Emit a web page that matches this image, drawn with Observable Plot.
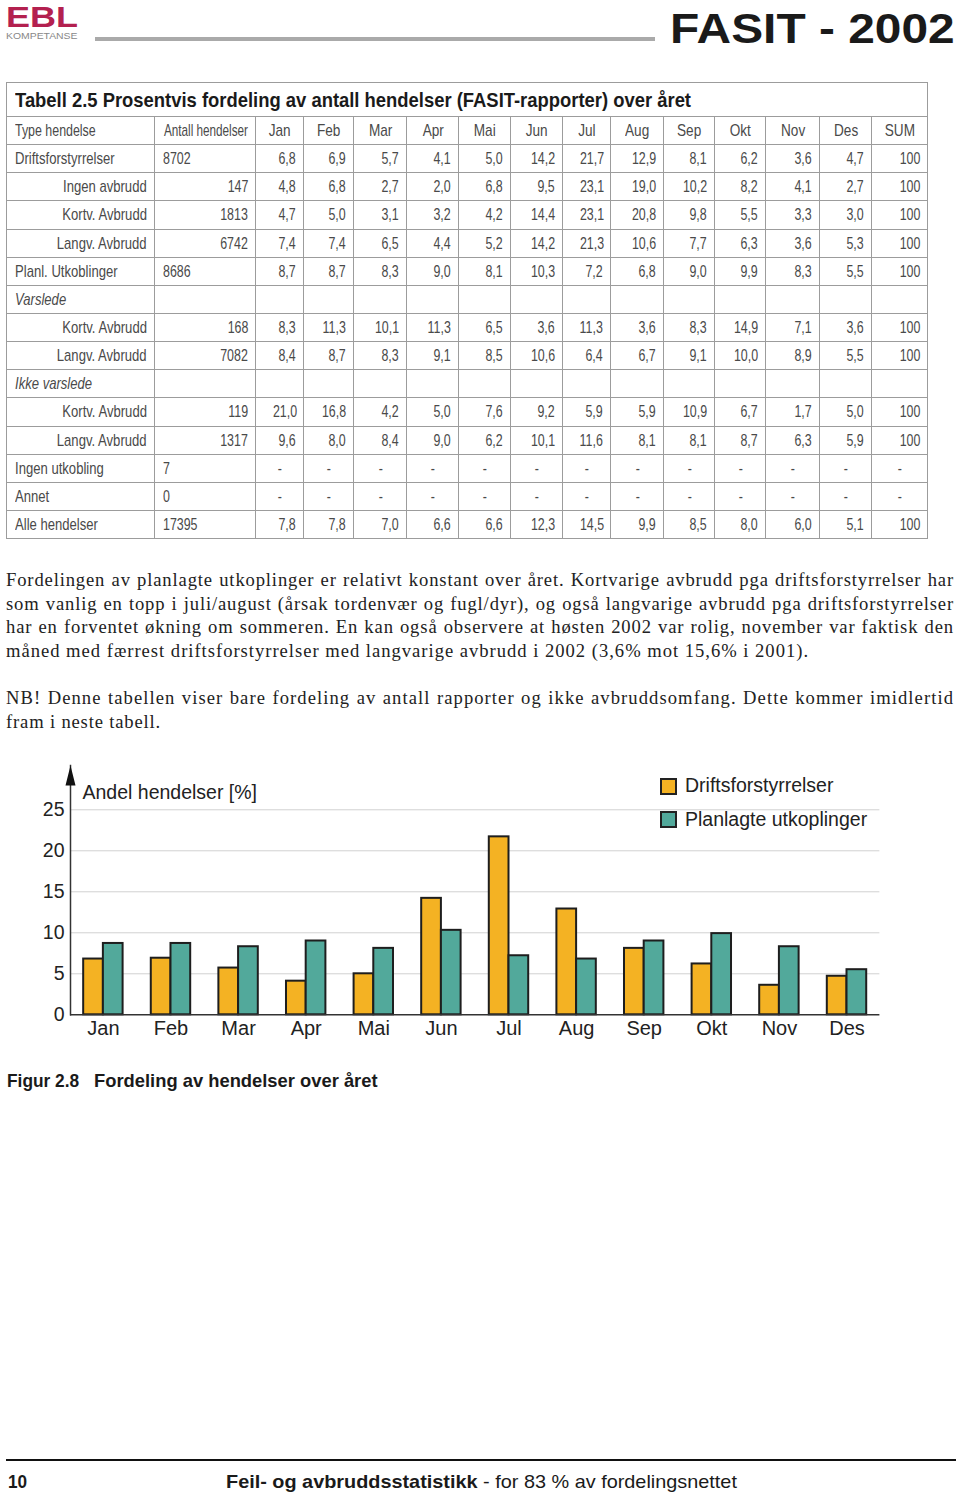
<!DOCTYPE html>
<html><head><meta charset="utf-8">
<script src="https://cdn.jsdelivr.net/npm/d3@7"></script>
<script src="https://cdn.jsdelivr.net/npm/@observablehq/plot@0.6"></script>
<style>
body{margin:0;background:#fff;width:960px;height:1496px;position:relative;overflow:hidden;font-family:"Liberation Sans",Arial,sans-serif;color:#222}
.abs{position:absolute;white-space:nowrap}
.fit{display:inline-block;white-space:nowrap}
#tbl{position:absolute;left:6px;top:82px;border-collapse:collapse;table-layout:fixed;width:921px}
#tbl td{border:1px solid #9c9c9c;padding:0 7px 0 8px;height:27.15px;font-size:17px;color:#4a4a4a;white-space:nowrap;overflow:visible;line-height:27px}
#tbl td.num{text-align:right}
#tbl td.ctr{text-align:center}
#tbl td.title{font-size:21px;font-weight:bold;color:#1a1a1a;height:33px;line-height:33px;padding-left:8px}
#tbl td span{display:inline-block}
#tbl td.ctr span{margin:0 -40px}
.par{position:absolute;left:6px;width:948px;font-family:"Liberation Serif","Times New Roman",serif;font-size:18.6px;line-height:23.7px;color:#222}
.par div{text-align:justify;text-align-last:justify;white-space:nowrap}
.par div.last{text-align-last:left}
.lg{position:absolute;width:17px;height:17px;box-sizing:border-box;border:2px solid #222}
.lgt{position:absolute;font-size:19.5px;line-height:22px;color:#222;white-space:nowrap}
</style></head>
<body>
<!-- header -->
<div class="abs" style="left:6px;top:4px;line-height:25px;font-size:30px;font-weight:bold;color:#b3204f"><span class="fit" data-w="72" style="transform-origin:left">EBL</span></div>
<div class="abs" style="left:6px;top:32px;line-height:8px;font-size:8.5px;color:#888"><span class="fit" data-w="71" style="transform-origin:left">KOMPETANSE</span></div>
<div class="abs" style="left:95px;top:37px;width:560px;height:4px;background:#aaaaaa"></div>
<div class="abs" style="left:670px;top:6px;font-size:42px;font-weight:bold;color:#1a1a1a;line-height:46px"><span class="fit" data-w="285" style="transform-origin:left">FASIT - 2002</span></div>

<table id="tbl"></table>

<div class="par" style="top:568px">
<div>Fordelingen av planlagte utkoplinger er relativt konstant over året. Kortvarige avbrudd pga driftsforstyrrelser har</div>
<div>som vanlig en topp i juli/august (årsak tordenvær og fugl/dyr), og også langvarige avbrudd pga driftsforstyrrelser</div>
<div>har en forventet økning om sommeren. En kan også observere at høsten 2002 var rolig, november var faktisk den</div>
<div class="last" data-w="803">måned med færrest driftsforstyrrelser med langvarige avbrudd i 2002 (3,6% mot 15,6% i 2001).</div>
</div>
<div class="par" style="top:686px">
<div>NB! Denne tabellen viser bare fordeling av antall rapporter og ikke avbruddsomfang. Dette kommer imidlertid</div>
<div class="last" data-w="155">fram i neste tabell.</div>
</div>

<div id="chart" class="abs" style="left:0;top:760px"></div>
<div class="lg" style="left:660px;top:778px;background:#f4b223"></div>
<div class="lgt" style="left:685px;top:774px">Driftsforstyrrelser</div>
<div class="lg" style="left:660px;top:811px;background:#52a99b"></div>
<div class="lgt" style="left:685px;top:808px">Planlagte utkoplinger</div>

<div class="abs" style="left:7px;top:1069px;font-size:19px;font-weight:bold;color:#1a1a1a;line-height:24px"><span class="fit" data-w="72" style="transform-origin:left">Figur 2.8</span></div>
<div class="abs" style="left:94px;top:1069px;font-size:19px;font-weight:bold;color:#1a1a1a;line-height:24px"><span class="fit" data-w="284" style="transform-origin:left">Fordeling av hendelser over året</span></div>

<!-- footer -->
<div class="abs" style="left:6px;top:1459px;width:950px;height:2px;background:#111"></div>
<div class="abs" style="left:8px;top:1471px;font-size:19px;font-weight:bold;color:#1a1a1a;line-height:22px"><span class="fit" data-w="19" style="transform-origin:left">10</span></div>
<div class="abs" style="left:226px;top:1471px;font-size:19px;color:#1a1a1a;line-height:22px"><span class="fit" data-w="511" style="transform-origin:left"><b>Feil- og avbruddsstatistikk</b> - for 83 % av fordelingsnettet</span></div>

<script>
// ---- chart data ----
const months = ["Jan","Feb","Mar","Apr","Mai","Jun","Jul","Aug","Sep","Okt","Nov","Des"];
const driftsforstyrrelser = [6.8, 6.9, 5.7, 4.1, 5.0, 14.2, 21.7, 12.9, 8.1, 6.2, 3.6, 4.7];
const planlagteUtkoplinger = [8.7, 8.7, 8.3, 9.0, 8.1, 10.3, 7.2, 6.8, 9.0, 9.9, 8.3, 5.5];
const seriesNames = ["Driftsforstyrrelser", "Planlagte utkoplinger"];
const yTicks = [0, 5, 10, 15, 20, 25];
const yLabel = "Andel hendelser [%]";

// ---- table data ----
const tblTitle = "Tabell 2.5 Prosentvis fordeling av antall hendelser (FASIT-rapporter) over året";
const tblHeader = ["Type hendelse","Antall hendelser","Jan","Feb","Mar","Apr","Mai","Jun","Jul","Aug","Sep","Okt","Nov","Des","SUM"];
const rowLabels = ["Driftsforstyrrelser","Ingen avbrudd","Kortv. Avbrudd","Langv. Avbrudd","Planl. Utkoblinger","Varslede","Kortv. Avbrudd","Langv. Avbrudd","Ikke varslede","Kortv. Avbrudd","Langv. Avbrudd","Ingen utkobling","Annet","Alle hendelser"];
const rowKinds = ["main","sub","sub","sub","main","group","sub","sub","group","sub","sub","main","main","main"];
const rowCounts = ["8702","147","1813","6742","8686","","168","7082","","119","1317","7","0","17395"];
const rDrift = ["6,8","6,9","5,7","4,1","5,0","14,2","21,7","12,9","8,1","6,2","3,6","4,7","100"];
const rIngen = ["4,8","6,8","2,7","2,0","6,8","9,5","23,1","19,0","10,2","8,2","4,1","2,7","100"];
const rKort = ["4,7","5,0","3,1","3,2","4,2","14,4","23,1","20,8","9,8","5,5","3,3","3,0","100"];
const rLang = ["7,4","7,4","6,5","4,4","5,2","14,2","21,3","10,6","7,7","6,3","3,6","5,3","100"];
const rPlanl = ["8,7","8,7","8,3","9,0","8,1","10,3","7,2","6,8","9,0","9,9","8,3","5,5","100"];
const rVarsKort = ["8,3","11,3","10,1","11,3","6,5","3,6","11,3","3,6","8,3","14,9","7,1","3,6","100"];
const rVarsLang = ["8,4","8,7","8,3","9,1","8,5","10,6","6,4","6,7","9,1","10,0","8,9","5,5","100"];
const rIkkeKort = ["21,0","16,8","4,2","5,0","7,6","9,2","5,9","5,9","10,9","6,7","1,7","5,0","100"];
const rIkkeLang = ["9,6","8,0","8,4","9,0","6,2","10,1","11,6","8,1","8,1","8,7","6,3","5,9","100"];
const rDash = ["-","-","-","-","-","-","-","-","-","-","-","-","-"];
const rAlle = ["7,8","7,8","7,0","6,6","6,6","12,3","14,5","9,9","8,5","8,0","6,0","5,1","100"];
const rowValues = [rDrift,rIngen,rKort,rLang,rPlanl,null,rVarsKort,rVarsLang,null,rIkkeKort,rIkkeLang,rDash,rDash,rAlle];

// ---- build table ----
const colW = [148,101,48,50,53,52,52,52,48,53,51,51,54,52,56];
const tbl = document.getElementById("tbl");
const cg = document.createElement("colgroup");
colW.forEach(w => { const c = document.createElement("col"); c.style.width = w + "px"; cg.appendChild(c); });
tbl.appendChild(cg);
function cell(row, text, align, sx, extra) {
  const c = row.insertCell();
  if (align === "right") c.className = "num";
  if (align === "center") c.className = "ctr";
  if (text) {
    const s = document.createElement("span");
    s.textContent = text;
    s.style.transform = `scaleX(${sx})`;
    s.style.transformOrigin = align === "right" ? "right" : align === "center" ? "center" : "left";
    if (extra) Object.assign(s.style, extra);
    c.appendChild(s);
  }
  return c;
}
let tr = tbl.insertRow();
let td = tr.insertCell(); td.colSpan = 15; td.className = "title";
const tspan = document.createElement("span"); tspan.className = "fit"; tspan.dataset.w = "676"; tspan.style.transformOrigin = "left"; tspan.textContent = tblTitle; td.appendChild(tspan);
tr = tbl.insertRow();
tblHeader.forEach((h, i) => cell(tr, h, i > 0 ? "center" : "left", i === 1 ? 0.69 : i === 0 ? 0.73 : 0.8));
rowLabels.forEach((lab, r) => {
  const row = tbl.insertRow();
  const kind = rowKinds[r];
  cell(row, lab, kind === "sub" ? "right" : "left", 0.77, kind === "group" ? {fontStyle: "italic"} : null);
  cell(row, rowCounts[r], kind === "sub" ? "right" : "left", 0.73);
  const vals = rowValues[r];
  for (let k = 0; k < 13; k++) {
    if (vals) cell(row, vals[k], vals[k] === "-" ? "center" : "right", 0.73);
    else row.insertCell();
  }
});

// fit helper
document.querySelectorAll(".fit").forEach(el => {
  const w = el.offsetWidth;
  el.style.transform = `scaleX(${(+el.dataset.w) / w})`;
});
// paragraph fitting: add letter spacing so natural width is close to target
document.querySelectorAll(".par div").forEach(el => {
  const target = el.dataset.w ? +el.dataset.w : 948;
  const txt = el.textContent;
  const probe = document.createElement("span");
  probe.textContent = txt;
  probe.style.whiteSpace = "nowrap";
  probe.style.position = "absolute";
  probe.style.visibility = "hidden";
  el.textContent = "";
  el.appendChild(probe);
  const w = probe.getBoundingClientRect().width;
  const n = txt.length;
  const ls = el.dataset.w ? (target - w) / n : (target - 10 - w) / n;
  el.textContent = txt;
  el.style.letterSpacing = ls.toFixed(3) + "px";
});

// ---- chart ----
const data = months.flatMap((m, i) => [
  {month: m, serie: seriesNames[0], value: driftsforstyrrelser[i]},
  {month: m, serie: seriesNames[1], value: planlagteUtkoplinger[i]}
]);
const half = 19.7;
const chart = Plot.plot({
  width: 960, height: 290,
  marginLeft: 70, marginRight: 80.6, marginTop: 5, marginBottom: 35.7,
  x: {domain: months, paddingInner: 0.417, paddingOuter: 0.195, round: false},
  y: {domain: [0, 30.4]},
  color: {domain: seriesNames, range: ["#f4b223", "#52a99b"]},
  style: {fontFamily: "'Liberation Sans', Arial, sans-serif", fontSize: "19.5px", color: "#222", background: "transparent"},
  marks: [
    Plot.gridY(yTicks.filter(t => t > 0), {stroke: "#d2d2d2", strokeOpacity: 1}),
    Plot.barY(data.filter(d => d.serie === seriesNames[0]), {x: "month", y: "value", fill: "serie", stroke: "#1e1e1e", strokeWidth: 2, insetRight: half}),
    Plot.barY(data.filter(d => d.serie === seriesNames[1]), {x: "month", y: "value", fill: "serie", stroke: "#1e1e1e", strokeWidth: 2, insetLeft: half}),
    Plot.ruleY([0], {stroke: "#333", strokeWidth: 1.5}),
    Plot.frame({anchor: "left", stroke: "#333", strokeWidth: 1.5}),
    Plot.vector([0], {frameAnchor: "top-left", shape: "spike", length: 20, r: 5, anchor: "end", fill: "#111", stroke: "none", rotate: 0}),
    Plot.axisY({ticks: yTicks, tickSize: 0, tickPadding: 6, label: null, fontSize: 19.5}),
    Plot.axisX({tickSize: 0, tickPadding: 6, label: null, fontSize: 20}),
    Plot.text([yLabel], {frameAnchor: "top-left", dx: 12, dy: 20, textAnchor: "start", fontSize: 19.5})
  ]
});
document.getElementById("chart").appendChild(chart);
</script>
</body></html>
